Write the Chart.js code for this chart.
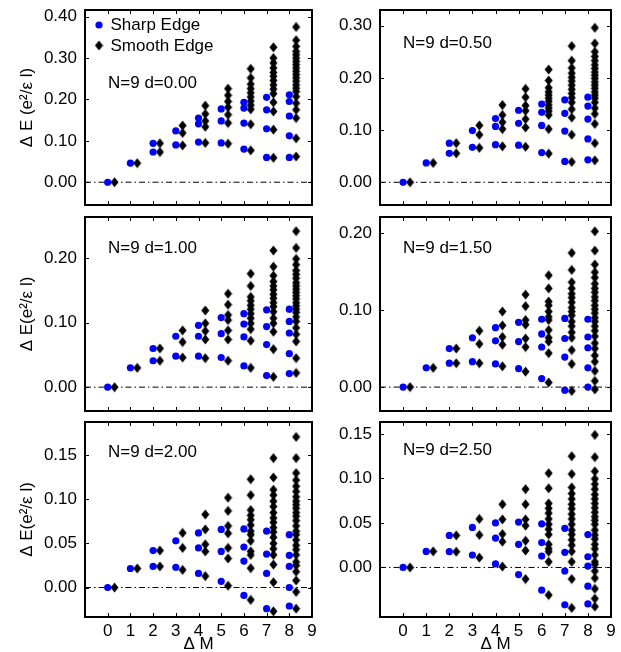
<!DOCTYPE html>
<html>
<head>
<meta charset="utf-8">
<script src="https://cdn.jsdelivr.net/npm/chart.js@4.4.1/dist/chart.umd.min.js"></script>
<style>
  body { margin: 0; background: #fff; }
  #wrap { position: relative; width: 621px; height: 652px; overflow: hidden; }
  #wrap canvas { position: absolute; }
</style>
</head>
<body>
<div id="wrap"></div>
<script>
// ΔM values on the x axis, smooth-edge points are drawn shifted right by 0.3
const deltaM = [0, 1, 2, 3, 4, 5, 6, 7, 8];
const xTicks = [0, 1, 2, 3, 4, 5, 6, 7, 8, 9];
const seriesNames = ['Sharp Edge', 'Smooth Edge'];
const panelLabels = ['N=9 d=0.00', 'N=9 d=0.50', 'N=9 d=1.00', 'N=9 d=1.50', 'N=9 d=2.00', 'N=9 d=2.50'];
const yTitles = ['\u0394 E (e\u00b2/\u03b5 l)', '', '\u0394 E(e\u00b2/\u03b5 l)', '', '\u0394 E(e\u00b2/\u03b5 l)', ''];
const yRanges = [[-0.055, 0.416], [-0.0435, 0.330], [-0.037, 0.264], [-0.031, 0.2206], [-0.0335, 0.188], [-0.0557, 0.1635]];
const yTicks = [
    [0, 0.1, 0.2, 0.3, 0.4],
    [0, 0.1, 0.2, 0.3],
    [0, 0.1, 0.2],
    [0, 0.1, 0.2],
    [0, 0.05, 0.1, 0.15],
    [0, 0.05, 0.1, 0.15]
];

// energies per ΔM (one inner list per ΔM = 0..8)
const sharp_d000 = [[0], [0.046], [0.094, 0.073], [0.124, 0.090], [0.155, 0.141, 0.097], [0.177, 0.148, 0.095], [0.193, 0.179, 0.143, 0.080], [0.205, 0.175, 0.129, 0.060], [0.211, 0.195, 0.160, 0.112, 0.060]];
const smooth_d000 = [[0], [0.046], [0.094, 0.073], [0.137, 0.119, 0.089], [0.185, 0.165, 0.148, 0.134, 0.095], [0.226, 0.210, 0.195, 0.181, 0.163, 0.143, 0.093],
    [0.274, 0.252, 0.237, 0.226, 0.216, 0.206, 0.196, 0.186, 0.176, 0.140, 0.077],
    [0.326, 0.300, 0.288, 0.276, 0.265, 0.256, 0.246, 0.235, 0.225, 0.214, 0.193, 0.171, 0.127, 0.059],
    [0.375, 0.343, 0.328, 0.316, 0.308, 0.300, 0.292, 0.284, 0.276, 0.268, 0.260, 0.252, 0.244, 0.235, 0.227, 0.219, 0.207, 0.191, 0.175, 0.155, 0.106, 0.062]];

const sharp_d050 = [[0], [0.037], [0.075, 0.0555], [0.099, 0.067], [0.122, 0.107, 0.072], [0.138, 0.113, 0.071], [0.150, 0.134, 0.109, 0.057], [0.158, 0.132, 0.098, 0.040], [0.163, 0.146, 0.121, 0.083, 0.043]];
const smooth_d050 = [[0], [0.037], [0.075, 0.0555], [0.109, 0.091, 0.066], [0.148, 0.129, 0.115, 0.102, 0.069], [0.179, 0.163, 0.147, 0.137, 0.121, 0.105, 0.068],
    [0.216, 0.195, 0.181, 0.173, 0.167, 0.161, 0.155, 0.148, 0.142, 0.136, 0.129, 0.102, 0.055],
    [0.261, 0.233, 0.219, 0.209, 0.201, 0.194, 0.186, 0.178, 0.170, 0.162, 0.153, 0.140, 0.124, 0.091, 0.039],
    [0.296, 0.266, 0.250, 0.241, 0.233, 0.225, 0.218, 0.211, 0.205, 0.199, 0.192, 0.186, 0.180, 0.173, 0.167, 0.161, 0.153, 0.142, 0.131, 0.112, 0.075, 0.042]];

const sharp_d100 = [[0], [0.030], [0.060, 0.041], [0.079, 0.048], [0.096, 0.079, 0.048], [0.108, 0.083, 0.046], [0.114, 0.098, 0.078, 0.033], [0.120, 0.094, 0.066, 0.018], [0.121, 0.102, 0.084, 0.052, 0.021]];
const smooth_d100 = [[0], [0.030], [0.060, 0.041], [0.088, 0.070, 0.046], [0.119, 0.099, 0.087, 0.074, 0.045], [0.145, 0.128, 0.112, 0.104, 0.088, 0.074, 0.041],
    [0.176, 0.157, 0.140, 0.134, 0.127, 0.121, 0.114, 0.107, 0.099, 0.090, 0.072, 0.030],
    [0.212, 0.187, 0.173, 0.164, 0.157, 0.151, 0.144, 0.138, 0.131, 0.125, 0.117, 0.107, 0.099, 0.086, 0.059, 0.016],
    [0.242, 0.216, 0.199, 0.190, 0.181, 0.175, 0.169, 0.162, 0.157, 0.152, 0.147, 0.142, 0.137, 0.131, 0.126, 0.121, 0.116, 0.109, 0.102, 0.092, 0.082, 0.071, 0.045, 0.022]];

const sharp_d150 = [[0], [0.025], [0.050, 0.031], [0.064, 0.033], [0.077, 0.060, 0.030], [0.084, 0.059, 0.024], [0.088, 0.069, 0.052, 0.011], [0.089, 0.063, 0.039, -0.004], [0.088, 0.065, 0.051, 0.025, 0.000]];
const smooth_d150 = [[0], [0.025], [0.050, 0.031], [0.073, 0.056, 0.031], [0.098, 0.080, 0.065, 0.055, 0.027], [0.120, 0.105, 0.087, 0.081, 0.063, 0.052, 0.020],
    [0.145, 0.128, 0.111, 0.106, 0.098, 0.091, 0.087, 0.074, 0.064, 0.059, 0.044, 0.006],
    [0.174, 0.152, 0.136, 0.128, 0.121, 0.116, 0.110, 0.103, 0.098, 0.093, 0.085, 0.079, 0.071, 0.064, 0.048, 0.030, -0.005],
    [0.202, 0.177, 0.159, 0.149, 0.142, 0.134, 0.128, 0.123, 0.117, 0.112, 0.106, 0.101, 0.096, 0.090, 0.085, 0.079, 0.073, 0.066, 0.057, 0.050, 0.041, 0.033, 0.021, 0.008, -0.003]];

const sharp_d200 = [[0], [0.0216], [0.042, 0.024], [0.053, 0.023], [0.062, 0.045, 0.016], [0.066, 0.041, 0.007], [0.0665, 0.046, 0.030, -0.009], [0.064, 0.038, 0.016, -0.024], [0.060, 0.0365, 0.024, 0.000, -0.021]];
const smooth_d200 = [[0], [0.0216], [0.042, 0.024], [0.062, 0.045, 0.020], [0.083, 0.066, 0.049, 0.041, 0.013], [0.102, 0.087, 0.070, 0.0615, 0.045, 0.033, 0.002],
    [0.123, 0.105, 0.088, 0.082, 0.077, 0.071, 0.064, 0.060, 0.053, 0.041, 0.037, 0.022, -0.014],
    [0.147, 0.125, 0.111, 0.105, 0.098, 0.092, 0.085, 0.079, 0.074, 0.068, 0.063, 0.057, 0.050, 0.044, 0.037, 0.026, 0.006, -0.027],
    [0.171, 0.147, 0.130, 0.122, 0.115, 0.109, 0.103, 0.098, 0.094, 0.090, 0.085, 0.081, 0.076, 0.070, 0.064, 0.060, 0.054, 0.048, 0.043, 0.037, 0.029, 0.025, 0.018, 0.008, -0.005, -0.024]];

const sharp_d250 = [[0], [0.018], [0.036, 0.0177], [0.045, 0.014], [0.050, 0.033, 0.004], [0.051, 0.026, -0.008], [0.049, 0.028, 0.0128, -0.0256], [0.044, 0.017, -0.004, -0.042], [0.037, 0.012, 0.0015, -0.021, -0.041]];
const smooth_d250 = [[0], [0.018], [0.036, 0.0177], [0.0545, 0.0365, 0.011], [0.071, 0.054, 0.0376, 0.029, 0.001], [0.088, 0.071, 0.054, 0.047, 0.030, 0.019, -0.013],
    [0.106, 0.089, 0.072, 0.0665, 0.061, 0.0545, 0.0485, 0.043, 0.037, 0.026, 0.021, 0.0177, 0.0064, -0.031],
    [0.125, 0.105, 0.090, 0.083, 0.077, 0.071, 0.066, 0.060, 0.0545, 0.0485, 0.042, 0.037, 0.031, 0.025, 0.018, 0.0064, -0.013, -0.0455],
    [0.149, 0.124, 0.108, 0.0996, 0.0936, 0.088, 0.082, 0.077, 0.072, 0.067, 0.062, 0.057, 0.053, 0.0485, 0.042, 0.0365, 0.032, 0.026, 0.021, 0.014, 0.0064, 0.0034, -0.004, -0.012, -0.024, -0.035, -0.044]];

const sharpSets = [sharp_d000, sharp_d050, sharp_d100, sharp_d150, sharp_d200, sharp_d250];
const smoothSets = [smooth_d000, smooth_d050, smooth_d100, smooth_d150, smooth_d200, smooth_d250];

// page layout of the six panels (canvas box, padding, y axis width, label offset)
const boxes = [
    { left: 0,   top: 0,   w: 330, h: 211, pad: { top: 10, bottom: 6, left: 0, right: 18 }, yw: 85, labelDy: 73 },
    { left: 320, top: 0,   w: 301, h: 211, pad: { top: 10, bottom: 6, left: 0, right: 10 }, yw: 60, labelDy: 33 },
    { left: 0,   top: 211, w: 330, h: 206, pad: { top: 6, bottom: 5, left: 0, right: 18 },  yw: 85, labelDy: 31 },
    { left: 320, top: 211, w: 301, h: 206, pad: { top: 6, bottom: 5, left: 0, right: 10 },  yw: 60, labelDy: 31 },
    { left: 0,   top: 416, w: 330, h: 236, pad: { top: 6, bottom: 0, left: 0, right: 18 },  yw: 85, labelDy: 30 },
    { left: 320, top: 416, w: 301, h: 236, pad: { top: 6, bottom: 0, left: 0, right: 10 },  yw: 60, labelDy: 28 }
];

const FONT = '"Liberation Sans", Arial, Helvetica, sans-serif';
const SHARP_COLOR = '#0000ff';
const SMOOTH_SHIFT = 0.3;

Chart.defaults.font.family = FONT;
Chart.defaults.color = '#000';

// filled diamond marker, a little taller than wide
const diamond = (() => {
    const c = document.createElement('canvas');
    c.width = 9; c.height = 11;
    const g = c.getContext('2d');
    g.fillStyle = '#000';
    g.beginPath();
    g.moveTo(4.5, 0.5); g.lineTo(8.5, 5.5); g.lineTo(4.5, 10.5); g.lineTo(0.5, 5.5);
    g.closePath();
    g.fill();
    return c;
})();

const toPoints = (cols, shift) => cols.flatMap((vals, i) => vals.map(v => ({ x: deltaM[i] + shift, y: v })));

// frame, inward ticks, panel label and (first panel) legend
const framePlugin = {
    id: 'frame',
    afterDraw(chart, args, opts) {
        const { ctx, chartArea: a, scales: { x, y } } = chart;
        ctx.save();
        ctx.strokeStyle = '#000';
        ctx.lineWidth = 1;
        ctx.beginPath();
        xTicks.forEach(v => {
            const px = Math.round(x.getPixelForValue(v)) + 0.5;
            ctx.moveTo(px, a.top); ctx.lineTo(px, a.top + 4);
            ctx.moveTo(px, a.bottom); ctx.lineTo(px, a.bottom - 4);
        });
        opts.ticks.forEach(v => {
            const py = Math.round(y.getPixelForValue(v)) + 0.5;
            ctx.moveTo(a.left, py); ctx.lineTo(a.left + 4, py);
            ctx.moveTo(a.right, py); ctx.lineTo(a.right - 4, py);
        });
        ctx.stroke();
        ctx.lineWidth = 2;
        ctx.strokeRect(a.left, a.top, a.right - a.left, a.bottom - a.top);

        ctx.fillStyle = '#000';
        ctx.font = '17px ' + FONT;
        ctx.textBaseline = 'middle';
        ctx.textAlign = 'left';
        ctx.fillText(opts.label, a.left + 23, a.top + opts.labelDy);

        if (opts.legend) {
            const mx = a.left + 14;
            ctx.fillStyle = SHARP_COLOR;
            ctx.beginPath();
            ctx.arc(mx, a.top + 15, 3.6, 0, Math.PI * 2);
            ctx.fill();
            ctx.drawImage(diamond, mx - diamond.width / 2, a.top + 35.5 - diamond.height / 2);
            ctx.fillStyle = '#000';
            ctx.fillText(seriesNames[0], a.left + 25.5, a.top + 15.5);
            ctx.fillText(seriesNames[1], a.left + 25.5, a.top + 36.5);
        }
        ctx.restore();
    }
};

const wrap = document.getElementById('wrap');

boxes.forEach((b, p) => {
    const canvas = document.createElement('canvas');
    canvas.width = b.w; canvas.height = b.h;
    canvas.style.left = b.left + 'px';
    canvas.style.top = b.top + 'px';
    canvas.style.width = b.w + 'px';
    canvas.style.height = b.h + 'px';
    wrap.appendChild(canvas);

    const bottomRow = p >= 4;

    new Chart(canvas, {
        type: 'scatter',
        data: {
            datasets: [
                {
                    label: seriesNames[0],
                    data: toPoints(sharpSets[p], 0),
                    pointStyle: 'circle',
                    pointRadius: 3.6,
                    pointBorderWidth: 0,
                    backgroundColor: SHARP_COLOR,
                    borderColor: SHARP_COLOR,
                    order: 1
                },
                {
                    label: seriesNames[1],
                    data: toPoints(smoothSets[p], SMOOTH_SHIFT),
                    pointStyle: diamond,
                    pointRadius: 5,
                    backgroundColor: '#000',
                    borderColor: '#000',
                    order: 2
                },
                {
                    type: 'line',
                    label: 'zero',
                    data: [{ x: -1, y: 0 }, { x: 9, y: 0 }],
                    borderColor: '#000',
                    borderWidth: 1,
                    borderDash: [6, 3, 1.5, 3],
                    pointRadius: 0,
                    fill: false,
                    order: 3
                }
            ]
        },
        options: {
            responsive: false,
            animation: false,
            events: [],
            layout: { padding: b.pad },
            plugins: {
                legend: { display: false },
                tooltip: { enabled: false },
                frame: { ticks: yTicks[p], label: panelLabels[p], labelDy: b.labelDy, legend: p === 0 }
            },
            scales: {
                x: {
                    type: 'linear',
                    min: -1,
                    max: 9,
                    display: bottomRow,
                    grid: { display: false, drawTicks: false },
                    border: { display: false },
                    afterBuildTicks: s => { s.ticks = xTicks.map(v => ({ value: v })); },
                    afterFit: s => { s.height = bottomRow ? 35 : 0; s.paddingLeft = 0; s.paddingRight = 0; },
                    ticks: { padding: 4, autoSkip: false, maxRotation: 0, font: { size: 17 }, color: '#000' },
                    title: { display: true, text: '\u0394 M', font: { size: 17, lineHeight: 1 }, padding: { top: 0, bottom: -1 }, color: '#000' }
                },
                y: {
                    type: 'linear',
                    min: yRanges[p][0],
                    max: yRanges[p][1],
                    grid: { display: false, drawTicks: false },
                    border: { display: false },
                    afterBuildTicks: s => { s.ticks = yTicks[p].map(v => ({ value: v })); },
                    afterFit: s => { s.width = b.yw; s.paddingTop = 0; s.paddingBottom = 0; },
                    ticks: { padding: 8, font: { size: 17 }, color: '#000', callback: v => v.toFixed(2) },
                    title: {
                        display: yTitles[p] !== '',
                        text: yTitles[p],
                        font: { size: 17 },
                        padding: { top: 17, bottom: 0 },
                        color: '#000'
                    }
                }
            }
        },
        plugins: [framePlugin]
    });
});
</script>
</body>
</html>
